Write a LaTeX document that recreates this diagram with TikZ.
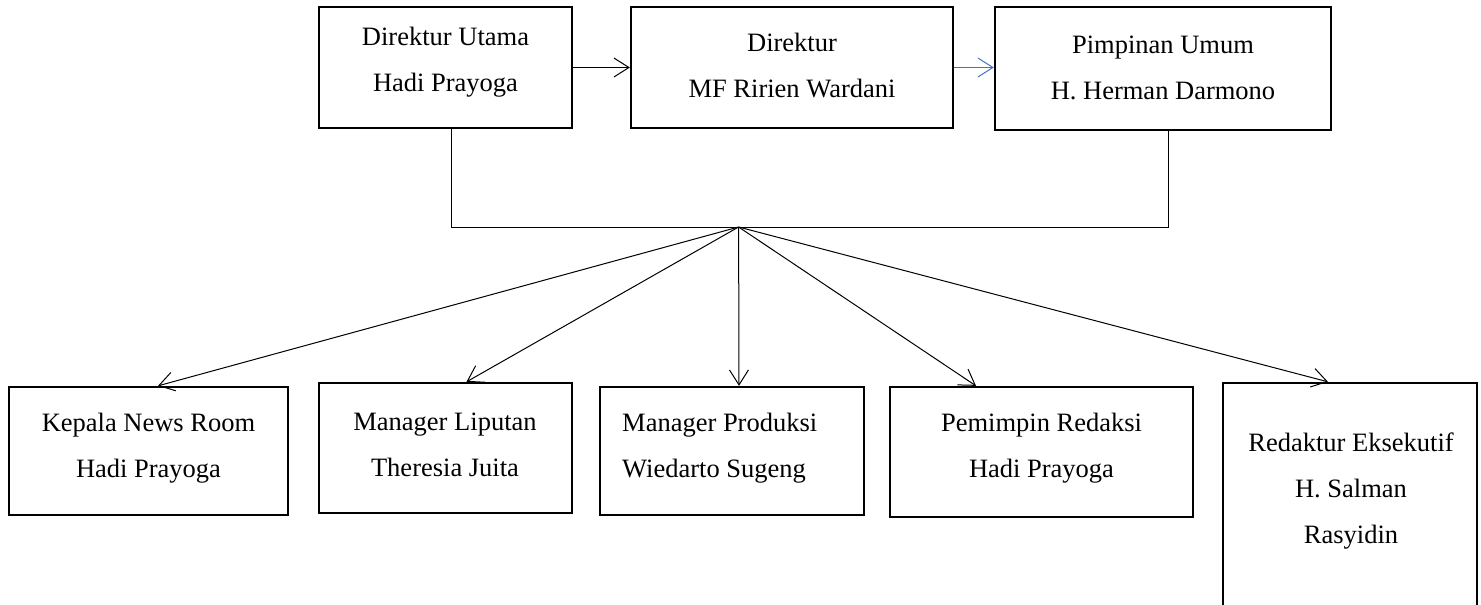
\documentclass[tikz,border=0pt]{standalone}
\usepackage{fontspec}
\setmainfont{Liberation Serif}
\usetikzlibrary{arrows.meta}
\definecolor{wordblue}{RGB}{68,114,196}
\begin{document}
\begin{tikzpicture}[x=1pt,y=-1pt,
  box/.style={draw=black, line width=2.3pt, inner sep=0pt, fill=none},
  txt/.style={align=center, inner sep=0pt, font=\fontsize{26.5}{46}\selectfont},
  link/.style={draw=black, line width=1pt},
  arr/.style={link, -{Straight Barb[length=15pt,width=19pt,line width=1pt]}}]
\useasboundingbox (0,0) rectangle (1481,605);
\clip (0,0) rectangle (1481,605);
% top row
\node[box, minimum width=253pt, minimum height=121pt] (b1) at (445.5,67.5) {};
\node[box, minimum width=322pt, minimum height=121pt] (b2) at (792,67.5) {};
\node[box, minimum width=336pt, minimum height=123pt] (b3) at (1163,68.5) {};
\node[txt] (t1) at (445.5,62.5) {Direktur Utama\\Hadi Prayoga};
\node[txt] (t2) at (792,65.5) {Direktur\\MF Ririen Wardani};
\node[txt] (t3) at (1163,67.5) {Pimpinan Umum\\H. Herman Darmono};
% bottom row
\node[box, minimum width=279pt, minimum height=128pt] (k) at (148.5,451) {};
\node[box, minimum width=253pt, minimum height=130pt] (l) at (445.5,448) {};
\node[box, minimum width=264pt, minimum height=128pt] (p) at (732,451) {};
\node[box, minimum width=303pt, minimum height=130pt] (r) at (1041.5,452) {};
\node[box, minimum width=254pt, minimum height=257pt] (e) at (1350,511.5) {};
\node[txt] (tk) at (148.5,448) {Kepala News Room\\Hadi Prayoga};
\node[txt] (tl) at (445,445) {Manager Liputan\\Theresia Juita};
\node[txt, align=left, anchor=west] (tp) at (622,448) {Manager Produksi\\Wiedarto Sugeng};
\node[txt] (tr) at (1041.5,448) {Pemimpin Redaksi\\Hadi Prayoga};
\node[txt] (te) at (1351,491.5) {Redaktur Eksekutif\\H. Salman\\Rasyidin};
% connectors
\coordinate (jl) at (451.5,227);
\coordinate (jr) at (1168,227);
\coordinate (fan) at (738.6,227);
\draw[arr] (b1.east) -- (b2.west);
\draw[arr, draw=wordblue, -{Straight Barb[length=15pt,width=19pt,line width=1pt,color=wordblue]}] (b2.east) -- (b2.east -| b3.west);
\draw[link] (b1.south -| jl) -- (jl) -- (jr) -- (b3.south -| jr);
\draw[arr] (fan) -- ([xshift=9.5pt]k.north);
\draw[arr] (fan) -- ([xshift=21pt]l.north);
\draw[arr] (fan) -- ([xshift=7pt]p.north);
\draw[arr] (fan) -- ([xshift=-65.5pt]r.north);
\draw[arr] (fan) -- ([xshift=-22pt]e.north);
\end{tikzpicture}
\end{document}
